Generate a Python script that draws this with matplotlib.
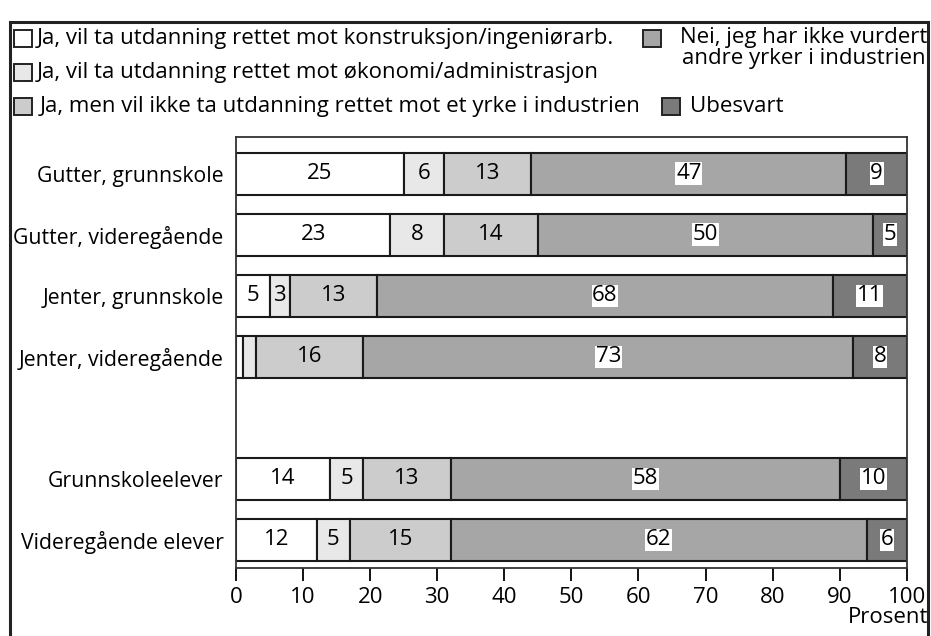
import matplotlib.pyplot as plt
from matplotlib.patches import Rectangle
import numpy as np

plt.rcParams["font.family"] = ["Open Sans", "DejaVu Sans"]

groups = [
    "Gutter, grunnskole",
    "Gutter, videregående",
    "Jenter, grunnskole",
    "Jenter, videregående",
    "Grunnskoleelever",
    "Videregående elever",
]
ypos = [0, 1, 2, 3, 5, 6]

konstruksjon = [25, 23, 5, 1, 14, 12]
okonomi = [6, 8, 3, 2, 5, 5]
ikke_industri = [13, 14, 13, 16, 13, 15]
ikke_vurdert = [47, 50, 68, 73, 58, 62]
ubesvart = [9, 5, 11, 8, 10, 6]

series = [konstruksjon, okonomi, ikke_industri, ikke_vurdert, ubesvart]
colors = ["#ffffff", "#e8e8e8", "#cccccc", "#a6a6a6", "#7a7a7a"]
boxed = [False, False, False, True, True]
legend_labels = [
    "Ja, vil ta utdanning rettet mot konstruksjon/ingeniørarb.",
    "Ja, vil ta utdanning rettet mot økonomi/administrasjon",
    "Ja, men vil ikke ta utdanning rettet mot et yrke i industrien",
    "Nei, jeg har ikke vurdert\nandre yrker i industrien",
    "Ubesvart",
]

FS = 16

fig = plt.figure(figsize=(9.31, 6.36), dpi=100)
ax = fig.add_axes([0.2535, 0.107, 0.7205, 0.6776])

left = np.zeros(len(groups))
for vals, col, box in zip(series, colors, boxed):
    vals = np.array(vals)
    ax.barh(ypos, vals, left=left, height=0.69, color=col,
            edgecolor="#1a1a1a", linewidth=1.5)
    for y, l, v in zip(ypos, left, vals):
        if v < 3:
            continue
        kw = {}
        if box:
            kw["bbox"] = dict(facecolor="white", edgecolor="none", pad=0.5)
        ax.text(l + v / 2, y, str(v), ha="center", va="center",
                fontsize=FS, color="black", **kw)
    left += vals

ax.set_xlim(0, 100)
ax.set_ylim(6.46, -0.6)
ax.set_xticks(range(0, 101, 10))
ax.set_yticks(ypos)
ax.set_yticklabels(groups)
ax.tick_params(axis="y", length=0, pad=9, labelsize=15.3)
ax.tick_params(axis="x", direction="out", length=9, width=1.3, labelsize=FS,
               pad=5)
for s in ax.spines.values():
    s.set_linewidth(1.3)
    s.set_color("#333333")
ax.text(1.032, -0.09, "Prosent", transform=ax.transAxes, ha="right",
        va="top", fontsize=FS)

# outer frame
fig.add_artist(Rectangle((0.0107, -0.01), 0.986, 0.975,
                         transform=fig.transFigure, fill=False,
                         edgecolor="#222222", linewidth=2.2))

# legend
W, H = 931, 636
def legend_item(x, y, col, text, tx):
    fig.add_artist(Rectangle((x / W, 1 - (y + 17) / H), 18 / W, 17 / H,
                             transform=fig.transFigure, facecolor=col,
                             edgecolor="#222222", linewidth=1.4))
    fig.text(tx / W, 1 - (y + 8.5) / H, text, ha="left", va="center",
             fontsize=FS)

legend_item(14, 30, colors[0], legend_labels[0], 37)
legend_item(14, 64, colors[1], legend_labels[1], 37)
legend_item(14, 98, colors[2], legend_labels[2], 40)
fig.add_artist(Rectangle((643 / W, 1 - 47 / H), 18 / W, 17 / H,
                         transform=fig.transFigure, facecolor=colors[3],
                         edgecolor="#222222", linewidth=1.4))
fig.text(804 / W, 1 - 48 / H, legend_labels[3], ha="center", va="center",
         fontsize=FS, linespacing=1.0)
legend_item(662, 98, colors[4], legend_labels[4], 690)

fig.savefig("out.png", dpi=100)
